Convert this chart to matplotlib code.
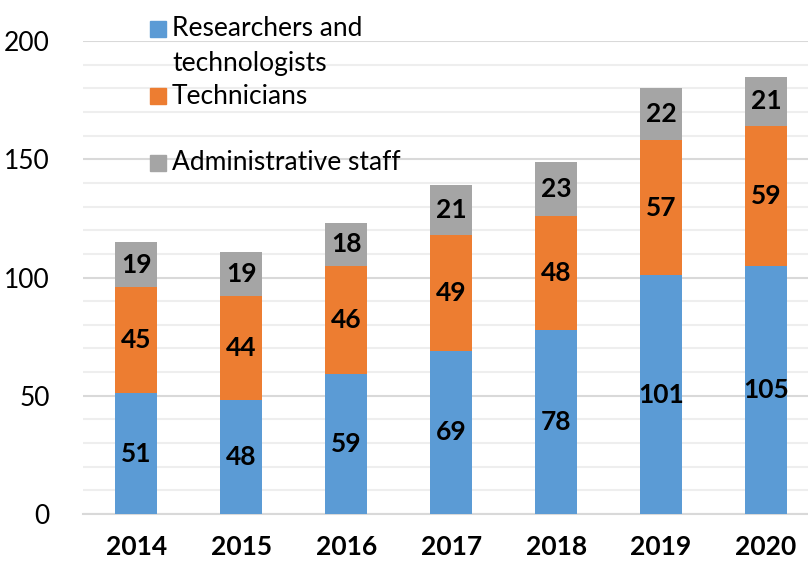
import numpy as np
import matplotlib.pyplot as plt
from matplotlib.patches import Rectangle

plt.rcParams['font.family'] = ['Lato', 'DejaVu Sans']

# Data
years = ['2014', '2015', '2016', '2017', '2018', '2019', '2020']
researchers = [51, 48, 59, 69, 78, 101, 105]
technicians = [45, 44, 46, 49, 48, 57, 59]
admin = [19, 19, 18, 21, 23, 22, 21]
labels = ['Researchers and', 'Technicians', 'Administrative staff']
colors = ['#5B9BD5', '#ED7D31', '#A5A5A5']

fig = plt.figure(figsize=(8.08, 5.61), dpi=100)
ax = fig.add_axes([0.103, 0.0838, 0.897, 0.843])

x = np.arange(len(years))
bottom = np.zeros(len(years))
for vals, col in zip([researchers, technicians, admin], colors):
    vals = np.array(vals)
    ax.bar(x, vals, 0.4, bottom=bottom, color=col, zorder=3)
    for xi, b, v in zip(x, bottom, vals):
        ax.text(xi, b + v / 2, str(v), ha='center', va='center',
                fontsize=19, fontweight='bold', color='black', zorder=4)
    bottom += vals

ax.set_xlim(-0.505, 6.4)
ax.set_ylim(0, 200)
ax.set_yticks([0, 50, 100, 150, 200])
ax.set_yticks(np.arange(0, 201, 10), minor=True)
ax.grid(axis='y', which='minor', color='#EEEEEE', lw=1.5, zorder=0)
ax.grid(axis='y', which='major', color='#D9D9D9', lw=1.5, zorder=1)
ax.tick_params(axis='both', which='both', length=0)
ax.tick_params(axis='y', labelsize=19, pad=24)
ax.tick_params(axis='x', labelsize=19, pad=15)
ax.set_xticks(x)
ax.set_xticklabels(years, fontweight='bold')
for s in ['top', 'right', 'left']:
    ax.spines[s].set_visible(False)
ax.spines['bottom'].set_color('#D9D9D9')
ax.spines['bottom'].set_linewidth(1.5)

# legend, drawn by hand because of its uneven spacing
leg_y = [29, 96, 163]
for lab, col, py in zip(labels, colors, leg_y):
    fig.patches.append(Rectangle((150 / 808, 1 - (py + 8) / 561), 16 / 808, 16 / 561,
                                 transform=fig.transFigure, color=col))
    fig.text(172 / 808, 1 - py / 561, lab, fontsize=19, va='center')
fig.text(172 / 808, 1 - 63 / 561, 'technologists', fontsize=19, va='center')

fig.savefig('out.png', dpi=100)
